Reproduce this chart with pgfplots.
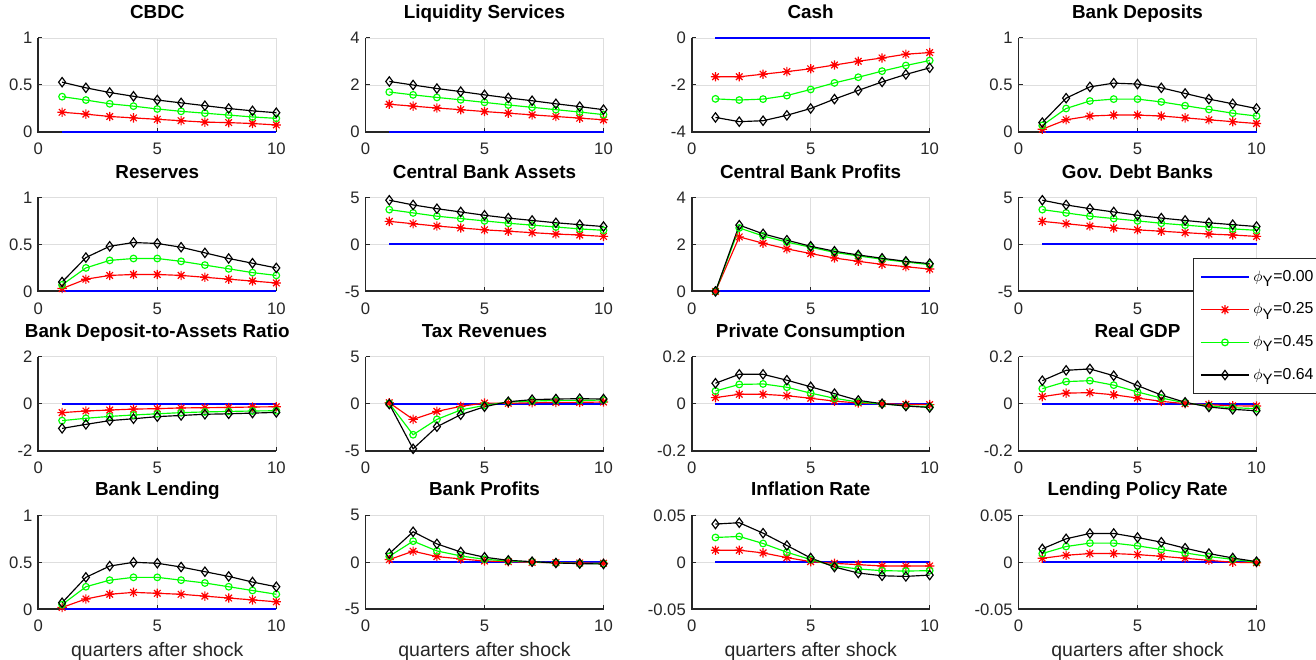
\documentclass[border=0pt]{standalone}
\usepackage{fontspec}
\setmainfont{Liberation Sans}
\usepackage{pgfplots}
\pgfplotsset{compat=1.18}
\definecolor{axgray}{gray}{0.15}
\definecolor{gridgray}{gray}{0.87}
% MATLAB-style eight-armed asterisk
\pgfdeclareplotmark{mstar}{%
  \pgfpathmoveto{\pgfqpoint{0pt}{\pgfplotmarksize}}\pgfpathlineto{\pgfqpoint{0pt}{-\pgfplotmarksize}}%
  \pgfpathmoveto{\pgfqpoint{\pgfplotmarksize}{0pt}}\pgfpathlineto{\pgfqpoint{-\pgfplotmarksize}{0pt}}%
  \pgfpathmoveto{\pgfqpoint{0.707\pgfplotmarksize}{0.707\pgfplotmarksize}}\pgfpathlineto{\pgfqpoint{-0.707\pgfplotmarksize}{-0.707\pgfplotmarksize}}%
  \pgfpathmoveto{\pgfqpoint{-0.707\pgfplotmarksize}{0.707\pgfplotmarksize}}\pgfpathlineto{\pgfqpoint{0.707\pgfplotmarksize}{-0.707\pgfplotmarksize}}%
  \pgfusepathqstroke}
\pgfplotsset{
  panel/.style={
    anchor=south west, scale only axis,
    width=142.8pt, height=56.4pt,
    xmin=0, xmax=10, xtick={0,5,10}, xticklabels={0,5,10},
    scaled y ticks=false,
    axis x line*=bottom, axis y line*=left,
    axis line style={draw=none, -},
    tick align=inside, major tick length=2.5pt,
    tick style={axgray, line width=0.6pt},
    grid=major, major grid style={gridgray, line width=0.5pt},
    tick label style={font=\fontsize{10}{12}\selectfont, text=axgray},
    xticklabel style={anchor=base, yshift=-13.6pt},
    title style={at={(0.5,1)}, anchor=base, yshift=5.6pt, font=\bfseries\fontsize{11.3}{13}\selectfont},
    xlabel style={at={(axis description cs:0.5,0)}, anchor=base, yshift=-28.5pt, font=\fontsize{11.7}{14}\selectfont, text=axgray},
    clip=false,
  },
  zero/.style={blue, line width=1.2pt, no markers},
  rs/.style={red, line width=0.7pt, mark=mstar, mark size=2.8pt, mark options={solid}},
  gs/.style={green, line width=0.7pt, mark=o, mark size=2pt, mark options={solid}},
  ks/.style={black, line width=0.7pt, mark=diamond, mark size=2.8pt, mark options={solid}},
}
% left and bottom axis lines above the grid, then the phi_Y = 0 line
\newcommand{\zeroline}{%
  \draw[axgray, line width=1.1pt] (rel axis cs:0,1) -- (rel axis cs:0,0) -- (rel axis cs:1,0);
  \addplot[zero] coordinates {(1,0)(2,0)(3,0)(4,0)(5,0)(6,0)(7,0)(8,0)(9,0)(10,0)};}
\begin{document}
\begin{tikzpicture}
\path[use as bounding box] (0,0) rectangle (789.6pt,-396pt);

% row 1
\begin{axis}[panel, at={(22.98pt,-79.2pt)}, title={CBDC},
  ymin=0, ymax=1, ytick={0,0.5,1}, yticklabels={0,0.5,1}]
\zeroline
\addplot[rs] coordinates {(1,0.21)(2,0.19)(3,0.165)(4,0.15)(5,0.135)(6,0.12)(7,0.105)(8,0.1)(9,0.09)(10,0.075)};
\addplot[gs] coordinates {(1,0.376)(2,0.34)(3,0.30)(4,0.275)(5,0.245)(6,0.22)(7,0.20)(8,0.18)(9,0.16)(10,0.145)};
\addplot[ks] coordinates {(1,0.53)(2,0.47)(3,0.42)(4,0.38)(5,0.34)(6,0.31)(7,0.28)(8,0.25)(9,0.225)(10,0.205)};
\end{axis}

\begin{axis}[panel, at={(219.3pt,-79.2pt)}, title={Liquidity Services},
  ymin=0, ymax=4, ytick={0,2,4}, yticklabels={0,2,4}]
\zeroline
\addplot[rs] coordinates {(1,1.18)(2,1.1)(3,1.02)(4,0.95)(5,0.87)(6,0.8)(7,0.73)(8,0.66)(9,0.59)(10,0.52)};
\addplot[gs] coordinates {(1,1.7)(2,1.58)(3,1.47)(4,1.37)(5,1.26)(6,1.15)(7,1.05)(8,0.95)(9,0.85)(10,0.74)};
\addplot[ks] coordinates {(1,2.15)(2,2.0)(3,1.85)(4,1.72)(5,1.58)(6,1.45)(7,1.33)(8,1.2)(9,1.08)(10,0.95)};
\end{axis}

\begin{axis}[panel, at={(415.0pt,-79.2pt)}, title={Cash},
  ymin=-4, ymax=0, ytick={-4,-2,0}, yticklabels={-4,-2,0}]
\zeroline
\addplot[rs] coordinates {(1,-1.65)(2,-1.65)(3,-1.54)(4,-1.43)(5,-1.31)(6,-1.15)(7,-0.99)(8,-0.85)(9,-0.69)(10,-0.62)};
\addplot[gs] coordinates {(1,-2.59)(2,-2.64)(3,-2.60)(4,-2.45)(5,-2.19)(6,-1.91)(7,-1.67)(8,-1.41)(9,-1.17)(10,-0.96)};
\addplot[ks] coordinates {(1,-3.38)(2,-3.56)(3,-3.52)(4,-3.29)(5,-3.0)(6,-2.60)(7,-2.23)(8,-1.87)(9,-1.55)(10,-1.27)};
\end{axis}

\begin{axis}[panel, at={(611.1pt,-79.2pt)}, title={Bank Deposits},
  ymin=0, ymax=1, ytick={0,0.5,1}, yticklabels={0,0.5,1}]
\zeroline
\addplot[rs] coordinates {(1,0.03)(2,0.13)(3,0.17)(4,0.18)(5,0.18)(6,0.17)(7,0.15)(8,0.13)(9,0.11)(10,0.09)};
\addplot[gs] coordinates {(1,0.07)(2,0.25)(3,0.33)(4,0.35)(5,0.35)(6,0.32)(7,0.28)(8,0.24)(9,0.20)(10,0.17)};
\addplot[ks] coordinates {(1,0.10)(2,0.36)(3,0.48)(4,0.52)(5,0.51)(6,0.47)(7,0.41)(8,0.35)(9,0.30)(10,0.25)};
\end{axis}

% row 2
\begin{axis}[panel, at={(22.98pt,-174.84pt)}, title={Reserves},
  ymin=0, ymax=1, ytick={0,0.5,1}, yticklabels={0,0.5,1}]
\zeroline
\addplot[rs] coordinates {(1,0.03)(2,0.13)(3,0.17)(4,0.18)(5,0.18)(6,0.17)(7,0.15)(8,0.13)(9,0.11)(10,0.09)};
\addplot[gs] coordinates {(1,0.07)(2,0.25)(3,0.33)(4,0.35)(5,0.35)(6,0.32)(7,0.28)(8,0.24)(9,0.20)(10,0.17)};
\addplot[ks] coordinates {(1,0.10)(2,0.36)(3,0.48)(4,0.52)(5,0.51)(6,0.47)(7,0.41)(8,0.35)(9,0.30)(10,0.25)};
\end{axis}

\begin{axis}[panel, at={(219.3pt,-174.84pt)}, title={Central Bank Assets},
  ymin=-5, ymax=5, ytick={-5,0,5}, yticklabels={-5,0,5}]
\zeroline
\addplot[rs] coordinates {(1,2.45)(2,2.2)(3,1.95)(4,1.75)(5,1.55)(6,1.4)(7,1.25)(8,1.1)(9,1.0)(10,0.85)};
\addplot[gs] coordinates {(1,3.7)(2,3.35)(3,3.0)(4,2.75)(5,2.5)(6,2.25)(7,2.05)(8,1.85)(9,1.65)(10,1.5)};
\addplot[ks] coordinates {(1,4.7)(2,4.2)(3,3.8)(4,3.45)(5,3.1)(6,2.8)(7,2.55)(8,2.3)(9,2.1)(10,1.9)};
\end{axis}

\begin{axis}[panel, at={(415.0pt,-174.84pt)}, title={Central Bank Profits},
  ymin=0, ymax=4, ytick={0,2,4}, yticklabels={0,2,4}]
\zeroline
\addplot[rs] coordinates {(1,0)(2,2.32)(3,2.05)(4,1.81)(5,1.61)(6,1.42)(7,1.28)(8,1.15)(9,1.05)(10,0.95)};
\addplot[gs] coordinates {(1,0)(2,2.70)(3,2.36)(4,2.1)(5,1.88)(6,1.66)(7,1.51)(8,1.37)(9,1.25)(10,1.14)};
\addplot[ks] coordinates {(1,0)(2,2.82)(3,2.45)(4,2.18)(5,1.92)(6,1.71)(7,1.55)(8,1.41)(9,1.28)(10,1.18)};
\end{axis}

% row 3
\begin{axis}[panel, at={(22.98pt,-270.42pt)}, title={Bank Deposit-to-Assets Ratio},
  ymin=-2, ymax=2, ytick={-2,0,2}, yticklabels={-2,0,2}]
\zeroline
\addplot[rs] coordinates {(1,-0.38)(2,-0.31)(3,-0.27)(4,-0.23)(5,-0.21)(6,-0.18)(7,-0.17)(8,-0.16)(9,-0.14)(10,-0.13)};
\addplot[gs] coordinates {(1,-0.72)(2,-0.62)(3,-0.54)(4,-0.48)(5,-0.43)(6,-0.38)(7,-0.35)(8,-0.33)(9,-0.31)(10,-0.30)};
\addplot[ks] coordinates {(1,-1.05)(2,-0.88)(3,-0.72)(4,-0.64)(5,-0.55)(6,-0.50)(7,-0.45)(8,-0.43)(9,-0.40)(10,-0.37)};
\end{axis}

\begin{axis}[panel, at={(219.3pt,-270.42pt)}, title={Tax Revenues},
  ymin=-5, ymax=5, ytick={-5,0,5}, yticklabels={-5,0,5}]
\zeroline
\addplot[rs] coordinates {(1,0.1)(2,-1.67)(3,-0.82)(4,-0.28)(5,0.07)(6,0.04)(7,0.1)(8,0.14)(9,0.14)(10,0.18)};
\addplot[gs] coordinates {(1,0.03)(2,-3.3)(3,-1.67)(4,-0.67)(5,-0.18)(6,0.18)(7,0.28)(8,0.35)(9,0.35)(10,0.39)};
\addplot[ks] coordinates {(1,-0.04)(2,-4.8)(3,-2.45)(4,-1.17)(5,-0.32)(6,0.21)(7,0.43)(8,0.5)(9,0.53)(10,0.5)};
\end{axis}

\begin{axis}[panel, at={(415.0pt,-270.42pt)}, title={Private Consumption},
  ymin=-0.2, ymax=0.2, ytick={-0.2,0,0.2}, yticklabels={-0.2,0,0.2}]
\zeroline
\addplot[rs] coordinates {(1,0.026)(2,0.04)(3,0.04)(4,0.034)(5,0.023)(6,0.011)(7,0.003)(8,0)(9,-0.003)(10,-0.004)};
\addplot[gs] coordinates {(1,0.054)(2,0.082)(3,0.084)(4,0.07)(5,0.045)(6,0.023)(7,0.007)(8,-0.001)(9,-0.009)(10,-0.013)};
\addplot[ks] coordinates {(1,0.087)(2,0.125)(3,0.125)(4,0.10)(5,0.072)(6,0.043)(7,0.014)(8,0.0)(9,-0.01)(10,-0.016)};
\end{axis}

\begin{axis}[panel, at={(611.1pt,-270.42pt)}, title={Real GDP},
  ymin=-0.2, ymax=0.2, ytick={-0.2,0,0.2}, yticklabels={-0.2,0,0.2}]
\zeroline
\addplot[rs] coordinates {(1,0.03)(2,0.045)(3,0.047)(4,0.038)(5,0.024)(6,0.01)(7,0)(8,-0.004)(9,-0.009)(10,-0.01)};
\addplot[gs] coordinates {(1,0.064)(2,0.094)(3,0.098)(4,0.079)(5,0.05)(6,0.024)(7,0.004)(8,-0.01)(9,-0.017)(10,-0.021)};
\addplot[ks] coordinates {(1,0.098)(2,0.142)(3,0.148)(4,0.119)(5,0.077)(6,0.037)(7,0.006)(8,-0.014)(9,-0.024)(10,-0.03)};
\end{axis}

% row 4
\begin{axis}[panel, at={(22.98pt,-365.58pt)}, title={Bank Lending}, xlabel={quarters after shock},
  ymin=0, ymax=1, ytick={0,0.5,1}, yticklabels={0,0.5,1}]
\zeroline
\addplot[rs] coordinates {(1,0.02)(2,0.11)(3,0.16)(4,0.18)(5,0.17)(6,0.16)(7,0.14)(8,0.12)(9,0.10)(10,0.08)};
\addplot[gs] coordinates {(1,0.05)(2,0.24)(3,0.31)(4,0.34)(5,0.34)(6,0.31)(7,0.28)(8,0.24)(9,0.20)(10,0.16)};
\addplot[ks] coordinates {(1,0.07)(2,0.34)(3,0.46)(4,0.50)(5,0.49)(6,0.45)(7,0.40)(8,0.35)(9,0.29)(10,0.24)};
\end{axis}

\begin{axis}[panel, at={(219.3pt,-365.58pt)}, title={Bank Profits}, xlabel={quarters after shock},
  ymin=-5, ymax=5, ytick={-5,0,5}, yticklabels={-5,0,5}]
\zeroline
\addplot[rs] coordinates {(1,0.29)(2,1.18)(3,0.61)(4,0.36)(5,0.14)(6,0.07)(7,0)(8,-0.04)(9,-0.07)(10,-0.1)};
\addplot[gs] coordinates {(1,0.64)(2,2.25)(3,1.21)(4,0.68)(5,0.32)(6,0.14)(7,0.04)(8,-0.07)(9,-0.11)(10,-0.14)};
\addplot[ks] coordinates {(1,0.93)(2,3.25)(3,1.96)(4,1.1)(5,0.54)(6,0.21)(7,0.07)(8,-0.07)(9,-0.14)(10,-0.18)};
\end{axis}

\begin{axis}[panel, at={(415.0pt,-365.58pt)}, title={Inflation Rate}, xlabel={quarters after shock},
  ymin=-0.05, ymax=0.05, ytick={-0.05,0,0.05}, yticklabels={-0.05,0,0.05}]
\zeroline
\addplot[rs] coordinates {(1,0.0129)(2,0.0129)(3,0.01)(4,0.005)(5,0.0007)(6,-0.0011)(7,-0.0025)(8,-0.0039)(9,-0.0039)(10,-0.0039)};
\addplot[gs] coordinates {(1,0.0264)(2,0.0275)(3,0.02)(4,0.0107)(5,0.0029)(6,-0.0039)(7,-0.0071)(8,-0.0089)(9,-0.0093)(10,-0.0089)};
\addplot[ks] coordinates {(1,0.0407)(2,0.0421)(3,0.031)(4,0.0179)(5,0.0046)(6,-0.005)(7,-0.0114)(8,-0.0143)(9,-0.015)(10,-0.0136)};
\end{axis}

\begin{axis}[panel, at={(611.1pt,-365.58pt)}, title={Lending Policy Rate}, xlabel={quarters after shock},
  ymin=-0.05, ymax=0.05, ytick={-0.05,0,0.05}, yticklabels={-0.05,0,0.05}]
\zeroline
\addplot[rs] coordinates {(1,0.0043)(2,0.0075)(3,0.0093)(4,0.0093)(5,0.0082)(6,0.0064)(7,0.0043)(8,0.0021)(9,0)(10,-0.0004)};
\addplot[gs] coordinates {(1,0.0093)(2,0.0168)(3,0.0204)(4,0.0204)(5,0.0175)(6,0.0136)(7,0.01)(8,0.0061)(9,0.0032)(10,0)};
\addplot[ks] coordinates {(1,0.0143)(2,0.025)(3,0.0307)(4,0.0307)(5,0.0264)(6,0.0214)(7,0.015)(8,0.0093)(9,0.0046)(10,0.0007)};
\end{axis}

% row 2, last column: drawn last so that its legend lies on top
\begin{axis}[panel, at={(611.1pt,-174.84pt)}, title={Gov. Debt Banks},
  ymin=-5, ymax=5, ytick={-5,0,5}, yticklabels={-5,0,5},
  legend style={at={(0.732,0.352)}, anchor=north west, draw=axgray, line width=0.5pt,
    fill=white, font=\fontsize{9.5}{11}\selectfont, row sep=5.6pt, inner sep=4pt,
    nodes={text height=7.5pt, text depth=2.5pt, inner sep=2pt}},
  legend cell align=left,
  legend image code/.code={\draw[mark repeat=2,mark phase=2,#1] plot coordinates {(0pt,0pt)(14.5pt,0pt)(29pt,0pt)};}]
\zeroline
\addplot[rs] coordinates {(1,2.45)(2,2.2)(3,1.95)(4,1.75)(5,1.55)(6,1.4)(7,1.25)(8,1.1)(9,1.0)(10,0.85)};
\addplot[gs] coordinates {(1,3.7)(2,3.35)(3,3.0)(4,2.75)(5,2.5)(6,2.25)(7,2.05)(8,1.85)(9,1.65)(10,1.5)};
\addplot[ks] coordinates {(1,4.7)(2,4.2)(3,3.8)(4,3.45)(5,3.1)(6,2.8)(7,2.55)(8,2.3)(9,2.1)(10,1.9)};
\legend{$\phi_{\mbox{\small Y}}$=0.00, $\phi_{\mbox{\small Y}}$=0.25, $\phi_{\mbox{\small Y}}$=0.45, $\phi_{\mbox{\small Y}}$=0.64}
\end{axis}
\end{tikzpicture}
\end{document}
